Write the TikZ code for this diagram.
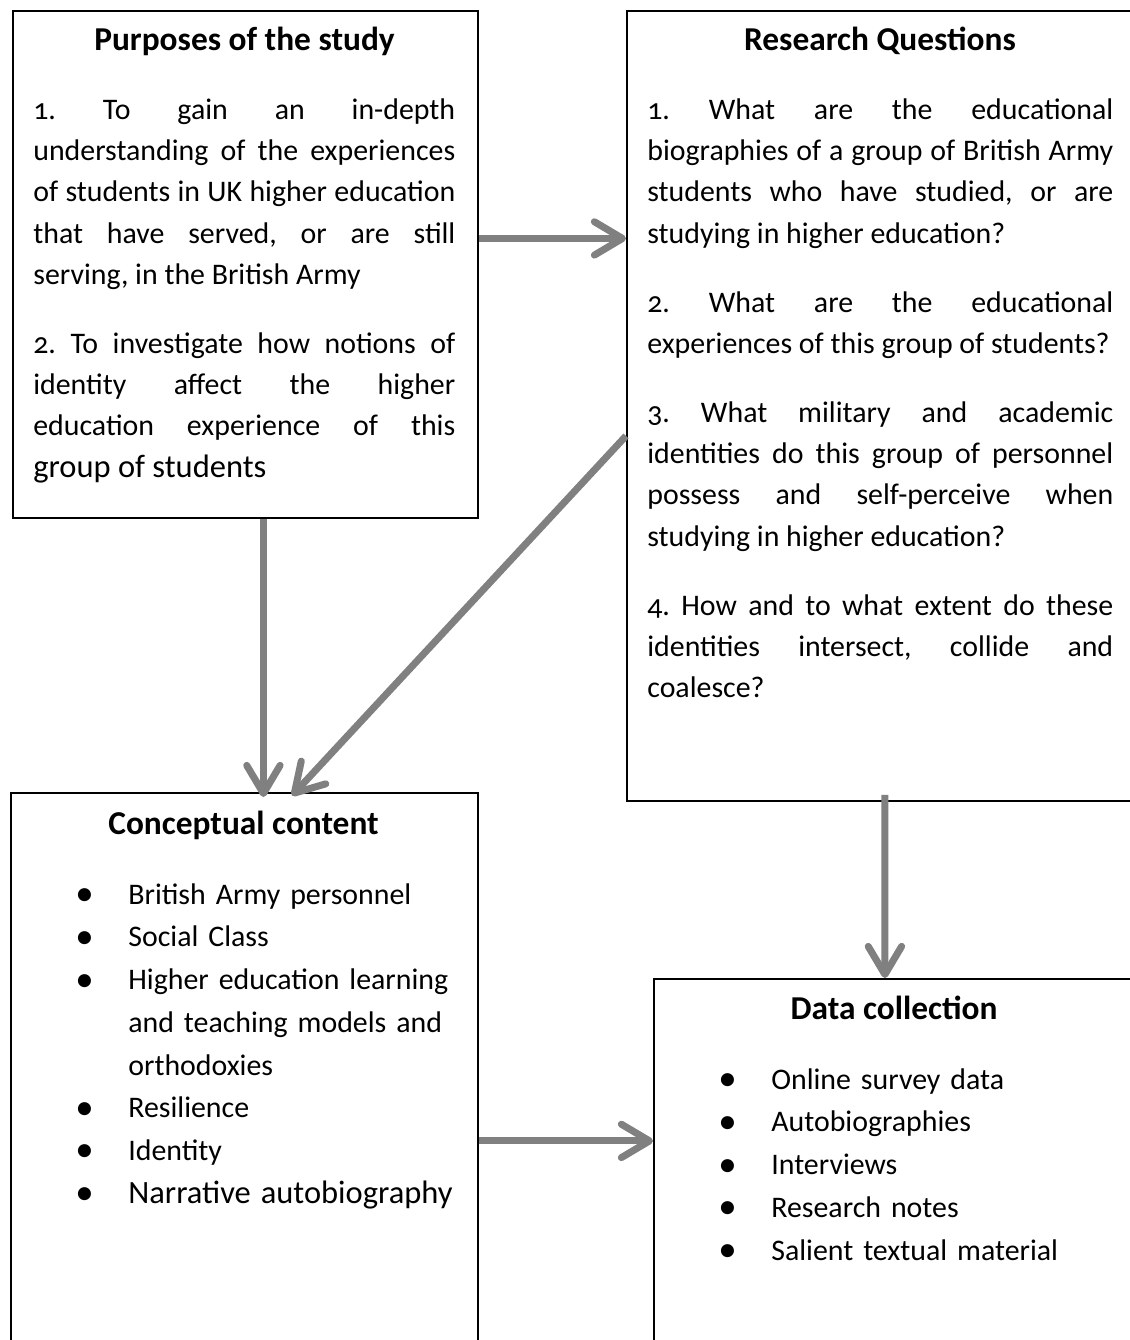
\documentclass[tikz,border=0pt]{standalone}
\usepackage{fontspec}
\setmainfont{Carlito}[Numbers=OldStyle]
\usetikzlibrary{arrows.meta}

\newdimen\pxu \pxu=0.569055pt
\definecolor{arrowgray}{HTML}{808080}
\newcommand{\bodyfont}{\fontsize{17}{23.5}\selectfont\frenchspacing\hyphenpenalty=10000\exhyphenpenalty=10000}
\newcommand{\parjump}{\par\vspace{15.76pt}}
\newcommand{\bigdot}{\raisebox{-0.9pt}{\fontsize{21}{21}\selectfont\textbullet}}
\newcommand{\bul}[1]{\noindent\hangindent=53\pxu\hangafter=1\makebox[53\pxu][l]{\strut\bigdot}#1\par}

\tikzstyle{box} = [draw, line width=1.1pt, anchor=north west, inner sep=0pt]
\tikzstyle{ttl} = [anchor=base, inner sep=0pt, font=\bfseries\fontsize{19}{23.5}\selectfont]
\tikzstyle{para} = [anchor=north west, inner sep=0pt, align=justify, font=\bodyfont]
\tikzstyle{list} = [anchor=north west, inner sep=0pt, align=left, font=\fontsize{17}{24.3}\selectfont]
\tikzstyle{arrow} = [line width=4pt, arrowgray, -{Straight Barb[length=16pt,width=19pt,line cap=round,line join=round]}]

\begin{document}
\begin{tikzpicture}[x=0.02cm, y=-0.02cm]
        \useasboundingbox (0,0) rectangle (1130,1340);
        \clip (0,0) rectangle (1130,1340);

        %boxes
        \node at (12,10) [box, minimum width=465\pxu, minimum height=507\pxu] (purp) {};
        \node at (626,10) [box, minimum width=508\pxu, minimum height=790\pxu] (rq) {};
        \node at (10,792) [box, minimum width=467\pxu, minimum height=568\pxu] (cc) {};
        \node at (653,978) [box, minimum width=482\pxu, minimum height=382\pxu] (dc) {};

        %purposes
        \node at (244.5,50) [ttl] (purpT) {Purposes of the study};
        \node at (33,90) [para, text width=422\pxu] (purpB) {\strut 1. To gain an in-depth\linebreak
            understanding of the experiences\linebreak
            of students in UK higher education\linebreak
            that have served, or are still\linebreak
            serving, in the British Army\parjump
            2. To investigate how notions of\linebreak
            identity affect the higher\linebreak
            education experience of this\linebreak
            {\fontsize{18.5}{23.5}\selectfont group of students}};

        %research questions
        \node at (880,50) [ttl] (rqT) {Research Questions};
        \node at (647,90) [para, text width=466\pxu] (rqB) {\strut 1. What are the educational\linebreak
            biographies of a group of British Army\linebreak
            students who have studied, or are\linebreak
            studying in higher education?\parjump
            2. What are the educational\linebreak
            experiences of this group of students?\parjump
            3. What military and academic\linebreak
            identities do this group of personnel\linebreak
            possess and self-perceive when\linebreak
            studying in higher education?\parjump
            4. How and to what extent do these\linebreak
            identities intersect, collide and\linebreak
            coalesce?};

        %conceptual content
        \node at (243.5,834) [ttl] (ccT) {Conceptual content};
        \node at (75,874) [list, text width=400\pxu] (ccL) {\bul{British Army personnel}
            \bul{Social Class}
            \bul{Higher education learning\newline and teaching models and\newline orthodoxies}
            \bul{Resilience}
            \bul{Identity}
            \bul{{\fontsize{18.5}{24.3}\selectfont Narrative autobiography}}};

        %data collection
        \node at (894,1019) [ttl] (dcT) {Data collection};
        \node at (718,1059) [list, text width=400\pxu] (dcL) {\bul{Online survey data}
            \bul{Autobiographies}
            \bul{Interviews}
            \bul{Research notes}
            \bul{Salient textual material}};

        %Arrows
        \coordinate (a1) at ([yshift=26\pxu]purp.east);
        \draw [arrow] (a1) -- (a1 -| rq.west);
        \draw [arrow, shorten >=-5\pxu] ([xshift=18\pxu]purp.south) -- ([xshift=18\pxu]purp.south |- cc.north);
        \draw [arrow, shorten >=-5\pxu] ([yshift=-30\pxu]rq.west) -- ([xshift=51\pxu]cc.north);
        \draw [arrow] ([xshift=4\pxu, yshift=7\pxu]rq.south) -- ([xshift=-10\pxu]dc.north);
        \coordinate (a5) at ([yshift=-64\pxu]cc.east);
        \draw [arrow] (a5) -- (a5 -| dc.west);

\end{tikzpicture}
\end{document}
